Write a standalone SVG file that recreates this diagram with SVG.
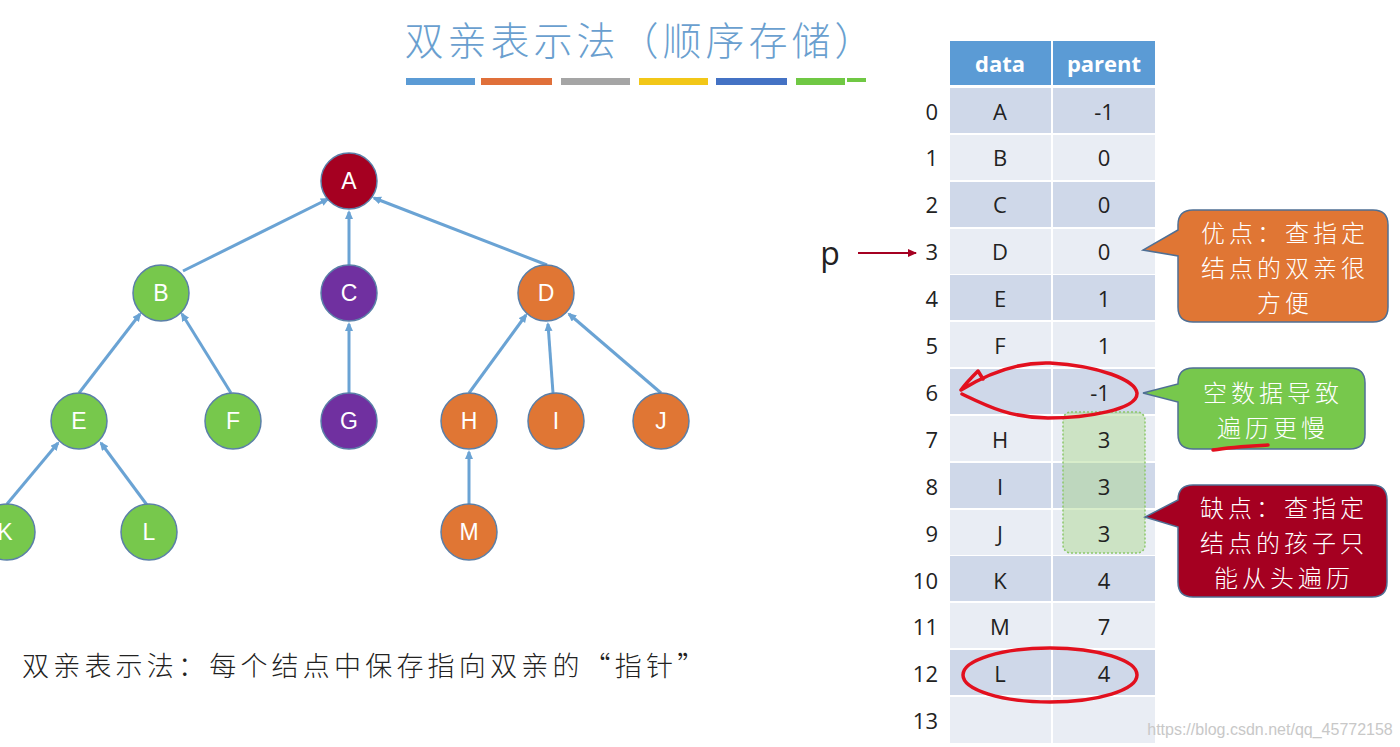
<svg xmlns="http://www.w3.org/2000/svg" width="1400" height="747" viewBox="0 0 1400 747">
<style>
.node circle{stroke:#5a7fa8;stroke-width:1.5}
.nt{font-family:"Liberation Sans","Noto Sans",sans-serif;font-size:23px;fill:#fff;text-anchor:middle;dominant-baseline:central}
.edge{stroke:#6aa3d4;stroke-width:3;fill:none;marker-end:url(#ah)}
.cell{font-family:"Open Sans","Liberation Sans",sans-serif;font-size:22px;fill:#222;text-anchor:middle;dominant-baseline:central}
.idx{font-family:"Open Sans","Liberation Sans",sans-serif;font-size:22px;fill:#222;text-anchor:end;dominant-baseline:central}
.hd{font-family:"Open Sans","Liberation Sans",sans-serif;font-size:22px;font-weight:bold;fill:#fff;text-anchor:middle;dominant-baseline:central}
.ev{fill:#cfd8e9}
.od{fill:#e9edf4}
.ct{font-family:"Noto Sans CJK SC",sans-serif;font-size:24px;font-weight:300;letter-spacing:4px;fill:#fff;text-anchor:middle;dominant-baseline:central}
.call{stroke:#4f6f94;stroke-width:1.5}
.red{stroke:#e2101e;stroke-width:3.5;fill:none;stroke-linecap:round;stroke-linejoin:round}
</style>
<defs>
<marker id="ah" markerWidth="10" markerHeight="10" refX="7" refY="4" orient="auto" markerUnits="userSpaceOnUse">
<path d="M0,0 L9,4 L0,8 Z" fill="#6aa3d4"/>
</marker>
<marker id="ahr" markerWidth="10" markerHeight="10" refX="8" refY="4" orient="auto" markerUnits="userSpaceOnUse">
<path d="M0,0 L9,4 L0,8 Z" fill="#a50021"/>
</marker>
</defs>
<rect width="1400" height="747" fill="#fff"/>

<g id="title">
<text x="641" y="38" font-family="Noto Sans CJK SC,sans-serif" font-size="39" font-weight="300" letter-spacing="4" fill="#6a9fcf" text-anchor="middle" dominant-baseline="central">双亲表示法（顺序存储）</text>
<rect x="406" y="78" width="69" height="7" fill="#5b9bd5"/>
<rect x="481" y="78" width="71" height="7" fill="#e0703a"/>
<rect x="561" y="78" width="69" height="7" fill="#a5a5a5"/>
<rect x="639" y="78" width="69" height="7" fill="#f2c718"/>
<rect x="716" y="78" width="71" height="7" fill="#4472c4"/>
<rect x="796" y="78" width="49" height="7" fill="#70c844"/>
<rect x="847" y="78" width="19" height="4" fill="#70c844"/>
</g>

<g id="connectors">
<line class="edge" x1="183" y1="271" x2="328" y2="199"/>
<line class="edge" x1="349" y1="265" x2="349" y2="212"/>
<line class="edge" x1="547" y1="265" x2="374" y2="198"/>
<line class="edge" x1="79" y1="393" x2="140" y2="314"/>
<line class="edge" x1="231" y1="393" x2="182" y2="314"/>
<line class="edge" x1="349" y1="393" x2="349" y2="324"/>
<line class="edge" x1="469" y1="393" x2="526" y2="315"/>
<line class="edge" x1="553" y1="393" x2="548" y2="324"/>
<line class="edge" x1="661" y1="393" x2="569" y2="314"/>
<line class="edge" x1="7" y1="504" x2="58" y2="443"/>
<line class="edge" x1="147" y1="505" x2="101" y2="443"/>
<line class="edge" x1="469" y1="505" x2="469" y2="452"/>
<line x1="858" y1="253" x2="916" y2="253" stroke="#a50021" stroke-width="2" marker-end="url(#ahr)"/>
</g>

<g id="node-A" class="node"><circle cx="349" cy="181" r="28" fill="#a50021"/><text class="nt" x="349" y="181">A</text></g>
<g id="node-B" class="node"><circle cx="161" cy="293" r="28" fill="#77c84c"/><text class="nt" x="161" y="293">B</text></g>
<g id="node-C" class="node"><circle cx="349" cy="293" r="28" fill="#7030a0"/><text class="nt" x="349" y="293">C</text></g>
<g id="node-D" class="node"><circle cx="546" cy="293" r="28" fill="#e07634"/><text class="nt" x="546" y="293">D</text></g>
<g id="node-E" class="node"><circle cx="79" cy="421" r="28" fill="#77c84c"/><text class="nt" x="79" y="421">E</text></g>
<g id="node-F" class="node"><circle cx="233" cy="421" r="28" fill="#77c84c"/><text class="nt" x="233" y="421">F</text></g>
<g id="node-G" class="node"><circle cx="349" cy="421" r="28" fill="#7030a0"/><text class="nt" x="349" y="421">G</text></g>
<g id="node-H" class="node"><circle cx="469" cy="421" r="28" fill="#e07634"/><text class="nt" x="469" y="421">H</text></g>
<g id="node-I" class="node"><circle cx="556" cy="421" r="28" fill="#e07634"/><text class="nt" x="556" y="421">I</text></g>
<g id="node-J" class="node"><circle cx="661" cy="421" r="28" fill="#e07634"/><text class="nt" x="661" y="421">J</text></g>
<g id="node-K" class="node"><circle cx="7" cy="532" r="28" fill="#77c84c"/><text class="nt" x="5" y="532">K</text></g>
<g id="node-L" class="node"><circle cx="149" cy="532" r="28" fill="#77c84c"/><text class="nt" x="149" y="532">L</text></g>
<g id="node-M" class="node"><circle cx="469" cy="532" r="28" fill="#e07634"/><text class="nt" x="469" y="532">M</text></g>

<g id="caption">
<text x="22" y="664" font-family="Noto Sans CJK SC,sans-serif" font-size="27" font-weight="300" letter-spacing="4.2" fill="#222" dominant-baseline="central">双亲表示法：每个结点中保存指向双亲的“指针”</text>
</g>

<g id="table">
<rect x="950" y="41" width="101" height="44" fill="#5b9bd5"/>
<rect x="1053" y="41" width="102" height="44" fill="#5b9bd5"/>
<text class="hd" x="1000" y="63">data</text>
<text class="hd" x="1104" y="63">parent</text>
<g>
<rect class="ev" x="950" y="88" width="101" height="45"/><rect class="ev" x="1053" y="88" width="102" height="45"/>
<rect class="od" x="950" y="135" width="101" height="45"/><rect class="od" x="1053" y="135" width="102" height="45"/>
<rect class="ev" x="950" y="182" width="101" height="45"/><rect class="ev" x="1053" y="182" width="102" height="45"/>
<rect class="od" x="950" y="229" width="101" height="45"/><rect class="od" x="1053" y="229" width="102" height="45"/>
<rect class="ev" x="950" y="275" width="101" height="45"/><rect class="ev" x="1053" y="275" width="102" height="45"/>
<rect class="od" x="950" y="322" width="101" height="45"/><rect class="od" x="1053" y="322" width="102" height="45"/>
<rect class="ev" x="950" y="369" width="101" height="45"/><rect class="ev" x="1053" y="369" width="102" height="45"/>
<rect class="od" x="950" y="416" width="101" height="45"/><rect class="od" x="1053" y="416" width="102" height="45"/>
<rect class="ev" x="950" y="463" width="101" height="45"/><rect class="ev" x="1053" y="463" width="102" height="45"/>
<rect class="od" x="950" y="510" width="101" height="45"/><rect class="od" x="1053" y="510" width="102" height="45"/>
<rect class="ev" x="950" y="556" width="101" height="45"/><rect class="ev" x="1053" y="556" width="102" height="45"/>
<rect class="od" x="950" y="603" width="101" height="45"/><rect class="od" x="1053" y="603" width="102" height="45"/>
<rect class="ev" x="950" y="650" width="101" height="45"/><rect class="ev" x="1053" y="650" width="102" height="45"/>
<rect class="od" x="950" y="697" width="101" height="46"/><rect class="od" x="1053" y="697" width="102" height="46"/>
</g>
<rect x="1063" y="412" width="82" height="141" rx="8" fill="#a8d88a" fill-opacity="0.45" stroke="#8cc86a" stroke-width="1.5" stroke-dasharray="2,2"/>
<g>
<text class="idx" x="938" y="111">0</text><text class="cell" x="1000" y="111">A</text><text class="cell" x="1104" y="111">-1</text>
<text class="idx" x="938" y="157">1</text><text class="cell" x="1000" y="157">B</text><text class="cell" x="1104" y="157">0</text>
<text class="idx" x="938" y="204">2</text><text class="cell" x="1000" y="204">C</text><text class="cell" x="1104" y="204">0</text>
<text class="idx" x="938" y="251">3</text><text class="cell" x="1000" y="251">D</text><text class="cell" x="1104" y="251">0</text>
<text class="idx" x="938" y="298">4</text><text class="cell" x="1000" y="298">E</text><text class="cell" x="1104" y="298">1</text>
<text class="idx" x="938" y="345">5</text><text class="cell" x="1000" y="345">F</text><text class="cell" x="1104" y="345">1</text>
<text class="idx" x="938" y="392">6</text><text class="cell" x="1100" y="392">-1</text>
<text class="idx" x="938" y="439">7</text><text class="cell" x="1000" y="439">H</text><text class="cell" x="1104" y="439">3</text>
<text class="idx" x="938" y="486">8</text><text class="cell" x="1000" y="486">I</text><text class="cell" x="1104" y="486">3</text>
<text class="idx" x="938" y="533">9</text><text class="cell" x="1000" y="533">J</text><text class="cell" x="1104" y="533">3</text>
<text class="idx" x="938" y="580">10</text><text class="cell" x="1000" y="580">K</text><text class="cell" x="1104" y="580">4</text>
<text class="idx" x="938" y="626">11</text><text class="cell" x="1000" y="626">M</text><text class="cell" x="1104" y="626">7</text>
<text class="idx" x="938" y="673">12</text><text class="cell" x="1000" y="673">L</text><text class="cell" x="1104" y="673">4</text>
<text class="idx" x="938" y="720">13</text>
</g>
</g>

<g id="pointer-p">
<text x="830" y="252" font-family="Open Sans,Liberation Sans,sans-serif" font-size="32" fill="#222" text-anchor="middle" dominant-baseline="central">p</text>
</g>

<g id="callout-pro">
<path class="call" fill="#e07634" d="M1193,210 H1373 Q1388,210 1388,225 V307 Q1388,322 1373,322 H1193 Q1178,322 1178,307 V256 L1143,250 L1178,230 V225 Q1178,210 1193,210 Z"/>
<text class="ct" x="1285" y="231">优点：查指定</text>
<text class="ct" x="1285" y="266">结点的双亲很</text>
<text class="ct" x="1285" y="301">方便</text>
</g>

<g id="callout-empty">
<path class="call" fill="#77c84c" d="M1193,368 H1350 Q1365,368 1365,383 V434 Q1365,449 1350,449 H1193 Q1178,449 1178,434 V402 L1143,393 L1178,384 V383 Q1178,368 1193,368 Z"/>
<text class="ct" x="1273" y="391">空数据导致</text>
<text class="ct" x="1273" y="426">遍历更慢</text>
</g>

<g id="callout-con">
<path class="call" fill="#a50021" d="M1193,485 H1372 Q1387,485 1387,500 V582 Q1387,597 1372,597 H1193 Q1178,597 1178,582 V527 L1145,517 L1178,500 Q1178,485 1193,485 Z"/>
<text class="ct" x="1284" y="506">缺点：查指定</text>
<text class="ct" x="1284" y="541">结点的孩子只</text>
<text class="ct" x="1284" y="576">能从头遍历</text>
</g>

<g id="annotations">
<path class="red" d="M983,379 L978,371 C972,377 966,383 961,390 C990,372 1020,362 1050,363 C1100,366 1135,380 1137,393 C1138,410 1085,418 1048,418 C1010,418 985,405 962,394"/>
<ellipse class="red" cx="1050" cy="675" rx="87" ry="27"/>
<path class="red" d="M1213,450 C1230,447 1250,446 1268,445" stroke-width="2.5"/>
</g>

<text x="1270" y="729" font-family="Liberation Sans,sans-serif" font-size="16" fill="#c8c8c8" text-anchor="middle" dominant-baseline="central">https://blog.csdn.net/qq_45772158</text>
</svg>
